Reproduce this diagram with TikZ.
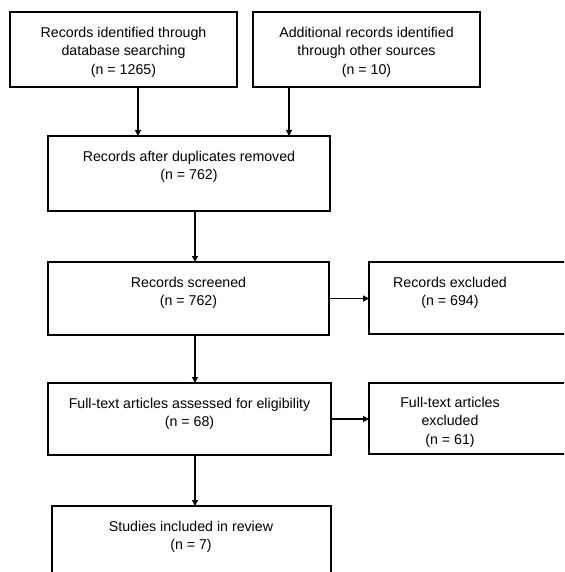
\documentclass[tikz,border=0pt]{standalone}
\usepackage{fontspec}
\setmainfont{Liberation Sans}
\usetikzlibrary{arrows.meta}
\tikzset{
  box/.style={draw=black, line width=1.2pt, inner sep=0pt, outer sep=0pt, anchor=north west},
  txt/.style={inner sep=0pt, align=center, anchor=north, font=\fontsize{14.2}{18.5}\selectfont},
  arr/.style={draw=black, line width=1.2pt, -{Triangle[length=6pt,width=6pt]}}
}
\begin{document}
\begin{tikzpicture}[x=1pt,y=-1pt]
\useasboundingbox (0,0) rectangle (564,572);
\clip (0,0) rectangle (564,572);
% boxes
\node[box, minimum width=227pt, minimum height=75pt] (b1) at (10,12) {};
\node[box, minimum width=227pt, minimum height=75pt] (b2) at (253,12) {};
\node[box, minimum width=282pt, minimum height=75pt] (b3) at (48,136) {};
\node[box, minimum width=281pt, minimum height=73pt] (b4) at (48,262) {};
\node[box, minimum width=211pt, minimum height=72pt] (b5) at (369,262) {};
\node[box, minimum width=283pt, minimum height=72pt] (b6) at (48,383) {};
\node[box, minimum width=211pt, minimum height=71pt] (b7) at (369,383) {};
\node[box, minimum width=279pt, minimum height=90pt] (b8) at (52,506) {};
% texts
\node[txt] (t1) at ([yshift=-15pt]b1.north) {Records identified through\\database searching\\(n = 1265)};
\node[txt] (t2) at ([yshift=-15pt]b2.north) {Additional records identified\\through other sources\\(n = 10)};
\node[txt] (t3) at ([yshift=-15pt]b3.north) {Records after duplicates removed\\(n = 762)};
\node[txt] (t4) at ([yshift=-15pt]b4.north) {Records screened\\(n = 762)};
\node[txt] (t5) at ([yshift=-15pt]450,262) {Records excluded\\(n = 694)};
\node[txt] (t6) at ([yshift=-15pt]b6.north) {Full-text articles assessed for eligibility\\(n = 68)};
\node[txt] (t7) at ([yshift=-14pt]450,383) {Full-text articles\\excluded\\(n = 61)};
\node[txt] (t8) at ([yshift=-15pt]191,506) {Studies included in review\\(n = 7)};
% connectors
\coordinate (c1) at (138,0);
\coordinate (c2) at (289,0);
\coordinate (c3) at (195,0);
\draw[arr] (b1.south -| c1) -- (b3.north -| c1);
\draw[arr] (b2.south -| c2) -- (b3.north -| c2);
\draw[arr] (b3.south -| c3) -- (b4.north -| c3);
\draw[arr] (b4.south -| c3) -- (b6.north -| c3);
\draw[arr] (b6.south -| c3) -- (b8.north -| c3);
\draw[arr] (b4.east) -- (b4.east -| b5.west);
\draw[arr] (b6.east) -- (b6.east -| b7.west);
\end{tikzpicture}
\end{document}
